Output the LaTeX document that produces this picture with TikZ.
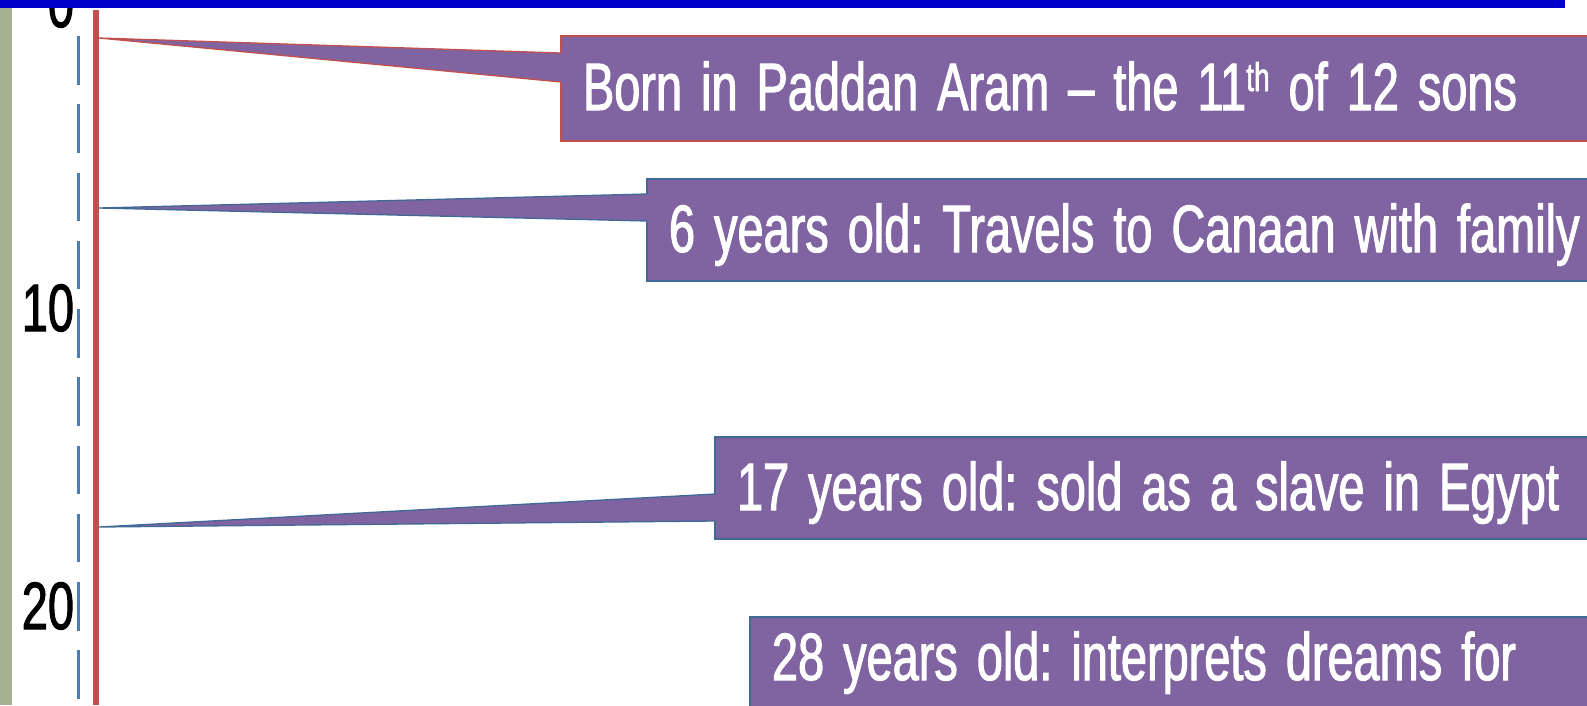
\documentclass[tikz,border=0pt]{standalone}
\usepackage{fontspec}
\setmainfont{Liberation Sans}[FakeStretch=0.70, FakeBold=1.5]
\usetikzlibrary{calc}
\definecolor{topblue}{RGB}{0,0,204}
\definecolor{sidegreen}{RGB}{165,178,145}
\definecolor{axisred}{RGB}{192,80,77}
\definecolor{dashblue}{RGB}{74,126,187}
\definecolor{callfill}{RGB}{128,100,162}
\definecolor{callblue}{RGB}{65,105,150}
\newcommand\myBigFont{\fontsize{67}{80}\selectfont\spaceskip 19pt\xspaceskip 19pt\relax}
\newcommand\myLine[1]{\makebox[1100pt][l]{#1}}
\begin{document}
\begin{tikzpicture}[x=1pt,y=-1pt,
  bigfont/.style={font=\myBigFont},
  lbl/.style={bigfont, inner sep=0pt, outer sep=0pt, anchor=base east},
  callbox/.style={draw=#1, fill=callfill, line width=1.5pt, text=white, bigfont,
    anchor=base west, inner xsep=22pt, inner ysep=0pt,
    outer sep=0pt, text height=73pt, text depth=29pt},
  wedgeline/.style={draw=#1, line width=1.3pt}]
\useasboundingbox (0,0) rectangle (1587,705);
% side bar
\fill[sidegreen] (0,0) rectangle (11.7,705);
% scale numbers
\node[lbl] (n0) at (74,27) {0};
\node[lbl] (n10) at (74,331) {10};
\node[lbl] (n20) at (74,629) {20};
% axis lines
\draw[dashblue, line width=3pt, dash pattern=on 48.5pt off 19.75pt] (78,36) -- (78,705);
\draw[axisred, line width=6pt] (96,10) -- (96,705);
% callout boxes
\node[callbox=axisred, text height=74pt, text depth=31pt] (b1) at (561,110)
  {\myLine{Born in Paddan Aram \textendash{} the 11\raisebox{19pt}{\fontsize{40}{42}\selectfont th} of 12 sons}};
\node[callbox=callblue] (b2) at (647,252) {\myLine{6 years old: Travels to Canaan with family}};
\node[callbox=callblue] (b3) at (715,510) {\myLine{17 years old: sold as a slave in Egypt}};
\node[callbox=callblue, text height=63pt, text depth=70pt] (b4) at (750,680) {\myLine{28 years old: interprets dreams for}};
% pointers
\coordinate (t1) at (99,38);
\coordinate (t2) at (99,208);
\coordinate (t3) at (99,527);
\fill[callfill] (t1) -- ($(b1.north west)+(1.5,17)$) -- ($(b1.north west)+(1.5,46)$) -- cycle;
\draw[wedgeline=axisred] ($(b1.north west)+(0,17)$) -- (t1) -- ($(b1.north west)+(0,46)$);
\fill[callfill] (t2) -- ($(b2.north west)+(1.5,15)$) -- ($(b2.north west)+(1.5,42)$) -- cycle;
\draw[wedgeline=callblue] ($(b2.north west)+(0,15)$) -- (t2) -- ($(b2.north west)+(0,42)$);
\fill[callfill] (t3) -- ($(b3.north west)+(1.5,57)$) -- ($(b3.north west)+(1.5,84)$) -- cycle;
\draw[wedgeline=callblue] ($(b3.north west)+(0,57)$) -- (t3) -- ($(b3.north west)+(0,84)$);
% top bar
\fill[topblue] (0,0) rectangle (1565,8.3);
\end{tikzpicture}
\end{document}
